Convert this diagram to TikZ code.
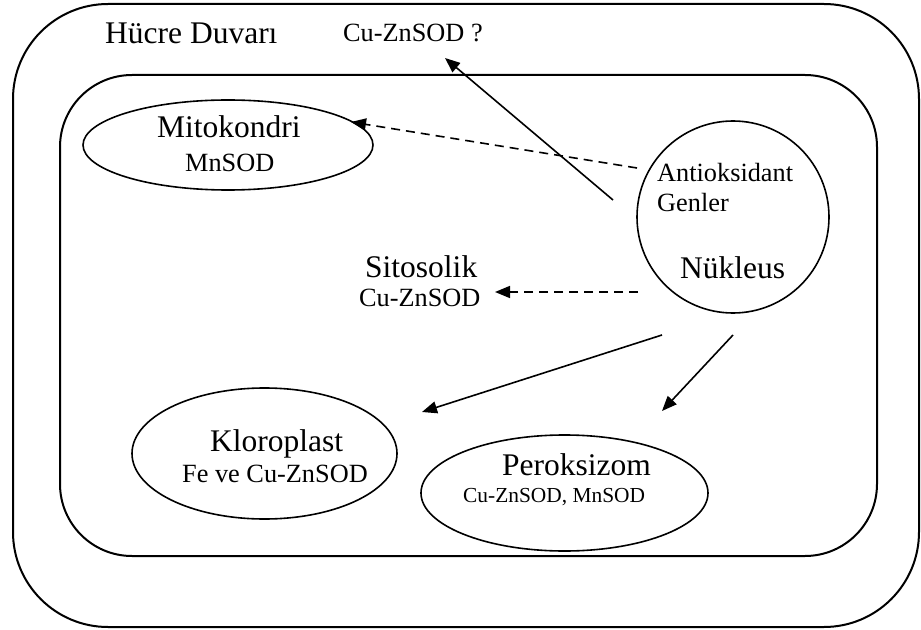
\documentclass[tikz,border=0pt]{standalone}
\usepackage{fontspec}
\setmainfont{Liberation Serif}
\usetikzlibrary{shapes.geometric,arrows.meta}
\begin{document}
\begin{tikzpicture}[x=1bp,y=-1bp,
  big/.style={font=\fontsize{31.5bp}{36bp}\selectfont, inner sep=0pt, anchor=base west},
  med/.style={font=\fontsize{26.3bp}{30bp}\selectfont, inner sep=0pt, anchor=base west},
  sml/.style={font=\fontsize{21.4bp}{25bp}\selectfont, inner sep=0pt, anchor=base west},
  wall/.style={draw=black, line width=2bp},
  organ/.style={ellipse, draw=black, line width=1.6bp, inner sep=0pt},
  arr/.style={line width=1.6bp, -{Triangle[length=15bp,width=12bp]}},
  darr/.style={arr, dash pattern=on 9bp off 6bp}]
\useasboundingbox (0,0) rectangle (921,630);
% walls
\draw[wall, rounded corners=95bp] (13,4) rectangle (919,627);
\draw[wall, rounded corners=72bp] (60,75) rectangle (877,556);
% organelles
\node[organ, minimum width=290bp, minimum height=90bp] (mito) at (228,145) {};
\node[organ, minimum width=265bp, minimum height=131bp] (klor) at (264.5,453.5) {};
\node[organ, minimum width=287bp, minimum height=116bp] (perok) at (564.5,493) {};
\node[circle, draw=black, line width=1.6bp, inner sep=0pt, minimum size=192bp] (nuc) at (733,217) {};
% texts
\node[big] (hd) at (105,44) {Hücre Duvarı};
\node[med] (cuq) at (343,42) {Cu-ZnSOD ?};
\node[big] (mitot) at (157,138) {Mitokondri};
\node[med] (mitos) at (185,172) {MnSOD};
\node[big] (sito) at (365,277) {Sitosolik};
\node[med] (sitos) at (359,306) {Cu-ZnSOD};
\node[med] (anti) at (657,182) {Antioksidant};
\node[med] (gen) at (657,212) {Genler};
\node[big] (nukt) at (680,278) {Nükleus};
\node[big] (klort) at (210,451) {Kloroplast};
\node[med] (klors) at (182,482) {Fe ve Cu-ZnSOD};
\node[big] (perokt) at (502,475) {Peroksizom};
\node[sml] (peroks) at (463,502) {Cu-ZnSOD, MnSOD};
% connector ends
\coordinate (t1) at (613,200); \coordinate (h1) at (445,58);
\coordinate (t2) at (637,168); \coordinate (h2) at (351,122);
\coordinate (t3) at (638,292); \coordinate (h3) at (495,292);
\coordinate (t4) at (662,335); \coordinate (h4) at (422,412);
\coordinate (t5) at (733,335); \coordinate (h5) at (662,411);
\draw[arr] (t1) -- (h1);
\draw[darr] (t2) -- (h2);
\draw[darr] (t3) -- (h3);
\draw[arr] (t4) -- (h4);
\draw[arr] (t5) -- (h5);
\end{tikzpicture}
\end{document}
